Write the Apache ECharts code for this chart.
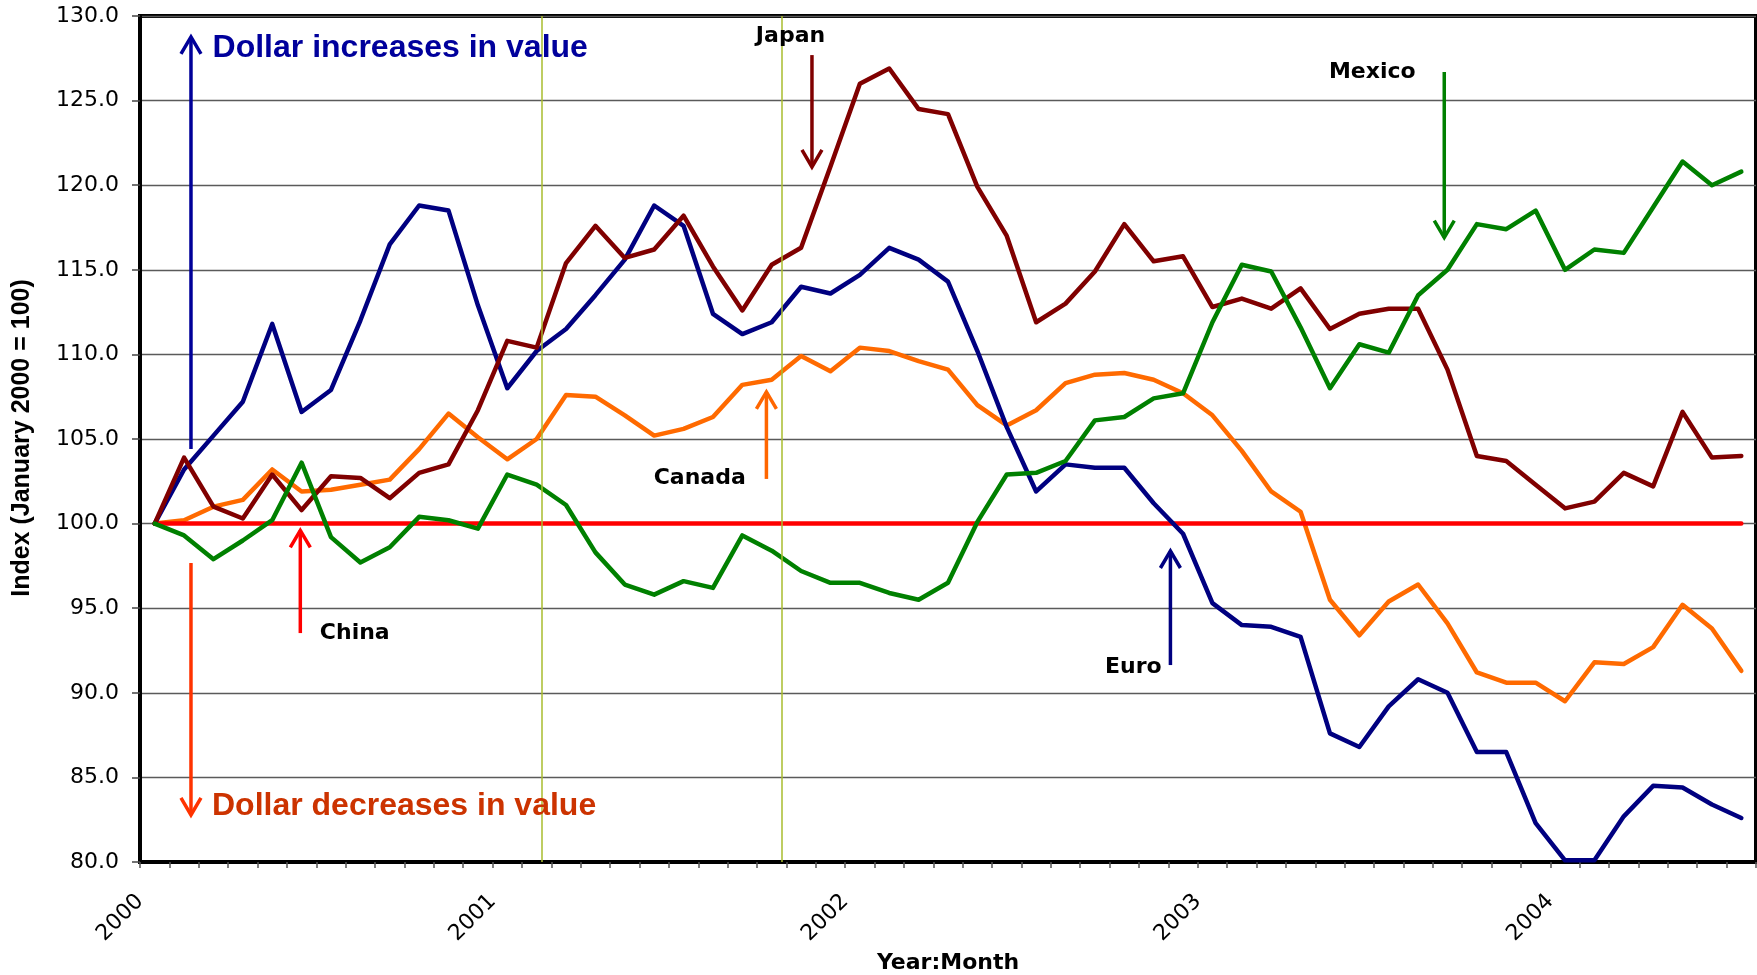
<!DOCTYPE html>
<html>
<head>
<meta charset="utf-8">
<title>Dollar exchange-rate index, 2000–2004</title>
<script src="https://cdn.jsdelivr.net/npm/echarts@6/dist/echarts.min.js"></script>
<style>
  html, body { margin: 0; padding: 0; background: #ffffff; }
  #chart { width: 1757px; height: 975px; }
</style>
</head>
<body>
<div id="chart"></div>
<script>
// Monthly categories, January 2000 to July 2004
const months = [
  '2000:01','2000:02','2000:03','2000:04','2000:05','2000:06','2000:07','2000:08','2000:09','2000:10','2000:11','2000:12',
  '2001:01','2001:02','2001:03','2001:04','2001:05','2001:06','2001:07','2001:08','2001:09','2001:10','2001:11','2001:12',
  '2002:01','2002:02','2002:03','2002:04','2002:05','2002:06','2002:07','2002:08','2002:09','2002:10','2002:11','2002:12',
  '2003:01','2003:02','2003:03','2003:04','2003:05','2003:06','2003:07','2003:08','2003:09','2003:10','2003:11','2003:12',
  '2004:01','2004:02','2004:03','2004:04','2004:05','2004:06','2004:07'
];

// Year labels shown at the first month of each year
const yearLabels = ['2000', '2001', '2002', '2003', '2004'];

// Index of foreign currency per dollar, January 2000 = 100
const canada = [
  100.0, 100.2, 101.0, 101.4, 103.2, 101.9, 102.0, 102.3, 102.6, 104.4, 106.5, 105.1,
  103.8, 105.0, 107.6, 107.5, 106.4, 105.2, 105.6, 106.3, 108.2, 108.5, 109.9, 109.0,
  110.4, 110.2, 109.6, 109.1, 107.0, 105.8, 106.7, 108.3, 108.8, 108.9, 108.5, 107.7,
  106.4, 104.3, 101.9, 100.7, 95.5, 93.4, 95.4, 96.4, 94.1, 91.2, 90.6, 90.6,
  89.5, 91.8, 91.7, 92.7, 95.2, 93.8, 91.3
];
const china = [
  100.0, 100.0, 100.0, 100.0, 100.0, 100.0, 100.0, 100.0, 100.0, 100.0, 100.0, 100.0,
  100.0, 100.0, 100.0, 100.0, 100.0, 100.0, 100.0, 100.0, 100.0, 100.0, 100.0, 100.0,
  100.0, 100.0, 100.0, 100.0, 100.0, 100.0, 100.0, 100.0, 100.0, 100.0, 100.0, 100.0,
  100.0, 100.0, 100.0, 100.0, 100.0, 100.0, 100.0, 100.0, 100.0, 100.0, 100.0, 100.0,
  100.0, 100.0, 100.0, 100.0, 100.0, 100.0, 100.0
];
const euro = [
  100.0, 103.2, 105.2, 107.2, 111.8, 106.6, 107.9, 112.0, 116.5, 118.8, 118.5, 112.9,
  108.0, 110.2, 111.5, 113.5, 115.6, 118.8, 117.6, 112.4, 111.2, 111.9, 114.0, 113.6,
  114.7, 116.3, 115.6, 114.3, 110.2, 105.7, 101.9, 103.5, 103.3, 103.3, 101.2, 99.4,
  95.3, 94.0, 93.9, 93.3, 87.6, 86.8, 89.2, 90.8, 90.0, 86.5, 86.5, 82.3,
  80.1, 80.1, 82.7, 84.5, 84.4, 83.4, 82.6
];
const japan = [
  100.0, 103.9, 101.0, 100.3, 102.9, 100.8, 102.8, 102.7, 101.5, 103.0, 103.5, 106.7,
  110.8, 110.4, 115.4, 117.6, 115.7, 116.2, 118.2, 115.2, 112.6, 115.3, 116.3, 121.1,
  126.0, 126.9, 124.5, 124.2, 119.9, 117.0, 111.9, 113.0, 114.9, 117.7, 115.5, 115.8,
  112.8, 113.3, 112.7, 113.9, 111.5, 112.4, 112.7, 112.7, 109.1, 104.0, 103.7, 102.3,
  100.9, 101.3, 103.0, 102.2, 106.6, 103.9, 104.0
];
const mexico = [
  100.0, 99.3, 97.9, 99.0, 100.2, 103.6, 99.2, 97.7, 98.6, 100.4, 100.2, 99.7,
  102.9, 102.3, 101.1, 98.3, 96.4, 95.8, 96.6, 96.2, 99.3, 98.4, 97.2, 96.5,
  96.5, 95.9, 95.5, 96.5, 100.1, 102.9, 103.0, 103.7, 106.1, 106.3, 107.4, 107.7,
  111.9, 115.3, 114.9, 111.6, 108.0, 110.6, 110.1, 113.5, 115.0, 117.7, 117.4, 118.5,
  115.0, 116.2, 116.0, 118.7, 121.4, 120.0, 120.8
];

// Recession boundaries, in months from January 2000
const recessionBounds = [13.68, 21.85];

// Callout arrows (month position, start value, tip value)
const arrows = [
  { x: 1.735, from: 104.41, to: 128.76, color: '#000099' },
  { x: 1.735, from: 97.67,  to: 82.78,  color: '#ff3300' },
  { x: 22.87, from: 127.69, to: 121.08, color: '#800000' },
  { x: 44.39, from: 126.69, to: 116.90, color: '#008000' },
  { x: 21.32, from: 102.64, to: 107.78, color: '#ff6600' },
  { x: 5.456, from: 93.53,  to: 99.60,  color: '#ff0000' },
  { x: 35.07, from: 91.64,  to: 98.38,  color: '#000080' }
];

// Callout texts (month position, value)
const bannerFont = 'bold 32px "Liberation Sans", Arial, sans-serif';
const nameFont = 'bold 22px "DejaVu Sans", Verdana, sans-serif';
const callouts = [
  { text: 'Dollar increases in value', x: 2.47,  y: 128.11, align: 'left',   color: '#00009c', font: bannerFont },
  { text: 'Dollar decreases in value', x: 2.45,  y: 83.31,  align: 'left',   color: '#cc3300', font: bannerFont },
  { text: 'Japan',  x: 22.14, y: 128.82, align: 'center', color: '#000', font: nameFont },
  { text: 'Mexico', x: 41.94, y: 126.69, align: 'center', color: '#000', font: nameFont },
  { text: 'Canada', x: 19.05, y: 102.70, align: 'center', color: '#000', font: nameFont },
  { text: 'China',  x: 7.31,  y: 93.53,  align: 'center', color: '#000', font: nameFont },
  { text: 'Euro',   x: 33.81, y: 91.52,  align: 'center', color: '#000', font: nameFont }
];

const toPoints = vals => vals.map((v, i) => [i + 0.5, v]);

const lineSeries = (name, vals, color, extra) => Object.assign({
  name: name,
  type: 'line',
  data: toPoints(vals),
  symbol: 'none',
  smooth: false,
  lineStyle: { color: color, width: 4.5, join: 'round', cap: 'round' },
  itemStyle: { color: color },
  emphasis: { disabled: true },
  animation: false
}, extra || {});

const chart = echarts.init(document.getElementById('chart'), null, { renderer: 'canvas' });

chart.setOption({
  backgroundColor: '#ffffff',
  animation: false,
  grid: {
    left: 140, right: 1, top: 16, bottom: 113,
    show: true, borderColor: '#000000', borderWidth: 4,
    containLabel: false, outerBoundsMode: 'none'
  },
  xAxis: {
    type: 'value',
    min: 0, max: months.length, interval: 1,
    axisLine: { show: true, onZero: false, lineStyle: { color: '#000000', width: 4 } },
    axisTick: { show: true, inside: false, length: 6, lineStyle: { color: '#555555', width: 1.5 } },
    splitLine: { show: false },
    axisLabel: {
      show: true, rotate: 45, margin: 36,
      color: '#000000', fontSize: 22, fontFamily: '"DejaVu Sans", Verdana, sans-serif',
      showMinLabel: true, showMaxLabel: true, hideOverlap: false,
      formatter: v => (v % 12 === 0 && yearLabels[v / 12] !== undefined) ? yearLabels[v / 12] : ''
    }
  },
  yAxis: {
    type: 'value',
    min: 80, max: 130, interval: 5,
    axisLine: { show: true, lineStyle: { color: '#000000', width: 4 } },
    axisTick: { show: true, inside: false, length: 8, lineStyle: { color: '#444444', width: 1.5 } },
    splitLine: { show: true, lineStyle: { color: '#5a5a5a', width: 1.3 } },
    axisLabel: {
      margin: 21, color: '#000000', fontSize: 22,
      fontFamily: '"DejaVu Sans", Verdana, sans-serif',
      formatter: v => v.toFixed(1)
    }
  },
  series: [
    lineSeries('Canada', canada, '#ff6a00', {
      markLine: {
        silent: true, symbol: ['none', 'none'], animation: false,
        label: { show: false },
        lineStyle: { color: '#a9bd2e', width: 1.5, type: 'solid' },
        emphasis: { disabled: true },
        data: recessionBounds.map(b => ({ xAxis: b }))
      }
    }),
    lineSeries('China', china, '#ff0000'),
    lineSeries('Euro', euro, '#000080'),
    lineSeries('Japan', japan, '#800000'),
    lineSeries('Mexico', mexico, '#008000')
  ]
});

// Annotation layer, placed through the chart's own coordinate system
const px = (x, y) => chart.convertToPixel({ gridIndex: 0 }, [x, y]);
const graphics = [];

arrows.forEach(a => {
  const p0 = px(a.x, a.from);
  const p1 = px(a.x, a.to);
  const dir = Math.sign(p1[1] - p0[1]);
  graphics.push({
    type: 'line', silent: true, z: 100,
    shape: { x1: p0[0], y1: p0[1], x2: p1[0], y2: p1[1] },
    style: { stroke: a.color, lineWidth: 3.5 }
  });
  graphics.push({
    type: 'polyline', silent: true, z: 100,
    shape: { points: [[p1[0] - 10, p1[1] - dir * 17], [p1[0], p1[1]], [p1[0] + 10, p1[1] - dir * 17]] },
    style: { stroke: a.color, lineWidth: 3.5, fill: null, lineJoin: 'miter' }
  });
});

callouts.forEach(c => {
  const p = px(c.x, c.y);
  graphics.push({
    type: 'text', silent: true, z: 100,
    x: p[0], y: p[1],
    style: { text: c.text, font: c.font, fill: c.color, textAlign: c.align, textVerticalAlign: 'middle' }
  });
});

// Axis titles
graphics.push({
  type: 'text', silent: true, z: 100,
  x: 948, y: 963,
  style: { text: 'Year:Month', font: 'bold 22px "DejaVu Sans", Verdana, sans-serif', fill: '#000', textAlign: 'center', textVerticalAlign: 'middle' }
});
graphics.push({
  type: 'text', silent: true, z: 100,
  x: 22, y: 438, rotation: Math.PI / 2,
  style: { text: 'Index (January 2000 = 100)', font: 'bold 25px "Liberation Sans", Arial, sans-serif', fill: '#000', textAlign: 'center', textVerticalAlign: 'middle' }
});

chart.setOption({ graphic: graphics });
</script>
</body>
</html>
